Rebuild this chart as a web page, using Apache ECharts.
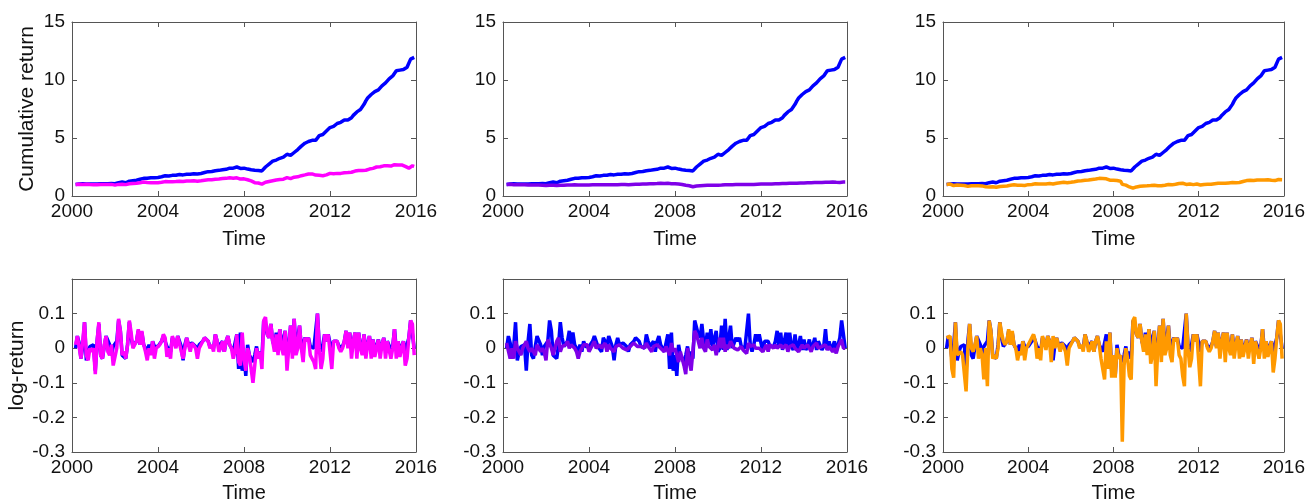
<!DOCTYPE html>
<html><head><meta charset="utf-8">
<script src="https://cdn.jsdelivr.net/npm/echarts@6/dist/echarts.min.js"></script>
<style>html,body{margin:0;padding:0;background:#fff}#c{width:1308px;height:504px}</style>
</head><body><div id="c"></div>
<script>
// Monthly observations, Mar 2000 .. Dec 2015
const startYear = 2000, startMonth = 3;
const xTicks = [2000, 2004, 2008, 2012, 2016];
const cumTicks = [0, 5, 10, 15];
const logTicks = [-0.3, -0.2, -0.1, 0, 0.1];

// Cumulative return (top row)
const blueCum = [
1.00,1.02,1.04,1.03,1.05,1.06,1.04,1.05,1.04,1.05,
1.03,1.02,1.04,1.06,1.05,1.04,1.05,1.07,1.06,1.05,1.07,1.08,
1.06,1.07,1.15,1.22,1.20,1.18,1.14,1.16,1.28,1.33,1.32,1.34,
1.36,1.42,1.44,1.50,1.52,1.55,1.53,1.56,1.58,1.60,1.57,1.60,
1.60,1.62,1.66,1.72,1.74,1.73,1.72,1.76,1.78,1.80,1.79,1.82,
1.85,1.83,1.82,1.85,1.87,1.88,1.87,1.89,1.92,1.93,1.90,1.92,
1.94,1.97,2.02,2.07,2.10,2.10,2.12,2.11,2.18,2.22,2.21,2.22,
2.26,2.30,2.30,2.38,2.40,2.42,2.40,2.42,2.50,2.45,2.38,2.48,
2.40,2.30,2.32,2.30,2.26,2.24,2.22,2.24,2.20,2.20,2.16,2.32,
2.50,2.65,2.75,2.90,3.00,3.05,3.10,3.15,3.25,3.30,3.35,3.45,
3.60,3.55,3.50,3.60,3.75,3.85,4.00,4.10,4.30,4.45,4.55,4.65,
4.70,4.75,4.80,4.80,4.80,4.85,5.20,5.20,5.30,5.45,5.60,5.75,
5.90,5.90,6.00,6.10,6.25,6.30,6.35,6.50,6.55,6.50,6.55,6.60,
6.75,6.95,7.10,7.25,7.35,7.45,7.60,7.90,8.20,8.45,8.60,8.75,
8.90,9.00,9.10,9.15,9.30,9.50,9.60,9.75,9.90,10.10,10.25,10.35,
10.40,10.80,10.80,10.85,10.80,10.90,11.00,11.10,11.10,11.80,11.90,11.95];

const magentaCum = [
1.00,1.01,1.02,1.00,0.99,1.02,1.01,0.99,0.99,0.98,
0.98,0.95,0.96,1.00,0.99,0.98,0.99,1.01,1.00,0.99,1.00,0.97,
0.94,0.94,1.00,1.03,1.01,1.00,0.98,0.99,1.05,1.08,1.08,1.09,
1.10,1.14,1.15,1.19,1.20,1.19,1.16,1.16,1.15,1.17,1.14,1.15,
1.15,1.16,1.18,1.22,1.24,1.22,1.22,1.20,1.23,1.25,1.25,1.28,
1.28,1.26,1.25,1.28,1.29,1.28,1.30,1.31,1.31,1.28,1.28,1.29,
1.31,1.33,1.36,1.38,1.40,1.40,1.41,1.40,1.45,1.48,1.47,1.47,
1.50,1.49,1.52,1.56,1.57,1.57,1.53,1.52,1.57,1.52,1.46,1.52,
1.48,1.40,1.40,1.38,1.30,1.20,1.15,1.14,1.12,1.10,1.02,1.08,
1.18,1.22,1.25,1.30,1.32,1.33,1.38,1.38,1.42,1.45,1.45,1.50,
1.58,1.50,1.50,1.55,1.62,1.60,1.65,1.72,1.75,1.78,1.82,1.85,
1.90,1.88,1.90,1.86,1.80,1.72,1.78,1.72,1.75,1.80,1.82,1.88,
1.95,1.88,1.92,1.95,1.95,1.97,1.95,1.98,2.00,2.05,2.02,2.08,
2.05,2.08,2.15,2.12,2.20,2.22,2.20,2.25,2.22,2.26,2.32,2.30,
2.38,2.45,2.50,2.55,2.52,2.55,2.60,2.55,2.60,2.62,2.58,2.60,
2.70,2.65,2.68,2.65,2.68,2.60,2.55,2.50,2.40,2.55,2.60,2.55];

const purpleCum = [
1.00,1.00,1.01,0.98,0.97,0.99,0.98,0.97,0.97,0.96,
0.96,0.94,0.94,0.96,0.95,0.94,0.94,0.95,0.94,0.93,0.93,0.91,
0.90,0.90,0.92,0.93,0.92,0.91,0.90,0.90,0.92,0.93,0.93,0.93,
0.94,0.95,0.95,0.96,0.96,0.96,0.95,0.95,0.94,0.95,0.94,0.94,
0.95,0.95,0.96,0.97,0.97,0.96,0.96,0.96,0.97,0.97,0.97,0.98,
0.98,0.97,0.97,0.98,0.98,0.98,0.99,0.99,0.99,0.98,0.98,0.99,
1.00,1.00,1.01,1.02,1.02,1.02,1.03,1.03,1.04,1.05,1.05,1.05,
1.06,1.06,1.07,1.08,1.09,1.09,1.08,1.08,1.09,1.08,1.06,1.07,
1.06,1.04,1.04,1.02,0.99,0.94,0.92,0.91,0.88,0.86,0.80,0.83,
0.86,0.87,0.88,0.90,0.90,0.91,0.92,0.92,0.93,0.93,0.93,0.94,
0.93,0.93,0.94,0.94,0.96,0.96,0.96,0.98,0.98,0.98,0.99,0.99,
1.00,1.00,1.00,1.00,0.99,1.00,1.00,0.99,0.99,1.00,1.01,1.02,
1.03,1.02,1.03,1.03,1.04,1.04,1.04,1.04,1.05,1.06,1.06,1.07,
1.07,1.07,1.08,1.08,1.09,1.09,1.09,1.10,1.10,1.11,1.12,1.12,
1.13,1.13,1.14,1.14,1.15,1.15,1.16,1.16,1.17,1.17,1.17,1.18,
1.19,1.19,1.19,1.19,1.20,1.19,1.18,1.18,1.17,1.19,1.20,1.20];

const orangeCum = [
1.00,1.02,1.03,0.97,0.90,0.96,0.95,0.93,0.93,0.92,
0.91,0.81,0.83,0.89,0.89,0.88,0.88,0.91,0.89,0.87,0.87,0.80,
0.80,0.72,0.78,0.82,0.80,0.78,0.75,0.76,0.82,0.85,0.85,0.86,
0.87,0.91,0.92,0.96,0.97,0.96,0.93,0.93,0.92,0.94,0.91,0.92,
0.98,0.99,1.00,1.03,1.05,1.03,1.03,1.00,1.03,1.05,1.04,1.07,
1.08,1.06,1.03,1.07,1.10,1.12,1.14,1.17,1.18,1.14,1.14,1.16,
1.18,1.20,1.23,1.26,1.29,1.30,1.31,1.30,1.35,1.39,1.38,1.40,
1.43,1.42,1.46,1.50,1.52,1.54,1.50,1.46,1.48,1.43,1.36,1.40,
1.36,1.32,1.33,1.30,1.28,1.00,0.95,0.94,0.87,0.78,0.72,0.67,
0.72,0.78,0.78,0.84,0.86,0.87,0.89,0.88,0.92,0.90,0.89,0.93,
0.99,0.88,0.91,0.88,0.95,0.93,0.93,0.99,0.99,0.96,0.98,1.01,
1.05,1.07,1.10,1.10,1.03,1.00,0.95,1.04,0.99,0.98,1.02,1.03,
1.06,0.95,0.97,1.00,1.00,1.01,1.02,1.01,1.03,1.06,1.06,1.10,
1.09,1.10,1.13,1.09,1.13,1.13,1.12,1.16,1.13,1.14,1.18,1.16,
1.20,1.25,1.30,1.33,1.32,1.35,1.38,1.33,1.35,1.38,1.35,1.37,
1.42,1.39,1.41,1.40,1.44,1.36,1.33,1.33,1.30,1.42,1.45,1.41];

// Log-returns (bottom row)
const blueLog = [
0.0,0.035,0.015,-0.03,0.005,0.075,-0.035,-0.01,0.005,0.0,
0.01,-0.065,0.02,0.07,-0.02,-0.03,0.005,0.035,0.04,0.01,-0.02,0.005,
0.01,0.02,0.08,0.05,-0.02,-0.02,-0.03,0.01,0.075,0.03,0.005,0.01,
0.02,0.05,0.01,0.045,0.01,0.005,-0.01,0.01,-0.01,0.02,0.005,0.01,
0.005,0.01,0.02,0.035,0.03,0.005,0.01,-0.01,0.03,0.02,0.005,0.035,
0.03,0.005,-0.035,0.01,0.03,0.01,0.005,0.015,0.02,0.005,-0.01,0.01,
0.01,0.02,0.03,0.025,0.02,0.005,0.01,0.0,0.04,0.02,0.005,0.01,
0.02,-0.01,0.02,0.035,0.01,0.005,-0.01,-0.01,0.04,-0.06,0.045,-0.065,
-0.02,-0.08,0.01,-0.02,-0.03,-0.04,-0.02,0.005,-0.03,-0.01,-0.03,0.08,
0.085,0.04,0.03,0.07,0.02,0.005,0.045,0.01,0.055,0.005,0.01,0.05,
-0.01,0.0,0.065,-0.005,0.085,-0.005,0.0,0.065,0.0,-0.005,0.03,0.02,
0.03,0.005,0.0,0.0,0.0,0.1,0.01,-0.01,0.01,0.04,0.02,0.04,
0.035,-0.01,0.02,0.025,0.02,0.005,0.0,0.005,0.02,0.05,0.005,0.045,
-0.005,0.02,0.045,-0.005,0.045,0.005,-0.005,0.04,-0.005,0.01,0.035,-0.005,
0.025,-0.005,0.005,0.025,-0.005,0.01,0.03,-0.005,0.02,0.025,-0.005,0.005,
0.055,-0.005,0.02,-0.005,0.005,0.02,-0.01,-0.005,0.03,0.08,0.075,0.0];

const magentaLog = [
0.01,0.035,0.03,-0.03,-0.035,0.075,-0.02,-0.035,0.0,-0.01,
0.0,-0.075,0.02,0.075,-0.02,-0.03,0.01,0.035,-0.01,-0.02,0.01,-0.05,
-0.055,0.0,0.085,0.05,-0.02,-0.01,-0.03,0.01,0.08,0.045,0.0,0.01,
0.02,0.055,0.01,0.05,0.01,-0.01,-0.035,0.0,-0.02,0.02,-0.03,0.0,
0.0,0.01,0.02,0.04,0.03,-0.025,0.0,-0.03,0.035,0.02,0.0,0.035,
0.035,-0.01,-0.03,0.0,0.03,0.01,-0.01,0.015,0.02,0.0,-0.03,0.0,
0.01,0.02,0.03,0.025,0.02,0.0,0.01,-0.01,0.04,0.02,-0.01,0.0,
0.02,-0.01,0.02,0.035,0.01,0.0,-0.03,-0.01,0.04,-0.04,-0.05,0.045,
-0.03,-0.065,0.0,-0.02,-0.06,-0.1,-0.05,0.0,-0.03,-0.01,-0.06,0.08,
0.09,0.04,0.03,0.07,0.02,-0.01,0.04,-0.02,0.055,0.0,-0.02,0.05,
-0.065,0.0,0.065,-0.03,0.085,-0.02,0.0,0.065,0.0,-0.04,0.03,0.02,
0.03,-0.02,-0.03,-0.04,-0.06,0.1,0.0,-0.06,-0.03,0.04,0.02,0.04,
0.035,-0.06,0.02,0.025,0.02,0.0,-0.01,0.0,0.02,0.05,0.0,0.045,
-0.03,0.02,0.045,-0.03,0.045,0.0,-0.02,0.04,-0.03,0.01,0.035,-0.03,
0.025,-0.025,0.0,0.025,-0.03,0.01,0.03,-0.03,0.02,0.025,-0.03,0.0,
0.055,-0.03,0.02,-0.025,0.0,0.02,-0.05,-0.03,0.03,0.08,0.07,-0.02];

const purpleLog = [
0.015,0.01,-0.03,0.0,-0.03,0.02,0.0,0.0,-0.02,0.0,
0.01,0.02,0.0,-0.01,0.0,0.0,-0.02,0.01,0.0,-0.01,0.0,-0.01,
-0.035,0.025,0.02,0.0,-0.02,0.0,0.02,0.03,-0.01,0.005,0.0,0.01,
0.02,0.0,0.01,0.015,0.0,-0.01,-0.03,-0.01,0.0,0.01,0.005,0.01,
-0.01,0.0,0.01,0.02,0.0,0.005,0.01,0.0,-0.005,0.015,-0.01,0.01,
0.0,0.005,-0.01,0.005,0.0,0.01,0.005,0.0,0.005,-0.005,-0.01,0.005,
0.01,0.015,0.01,0.005,0.01,0.005,0.01,0.0,0.015,0.005,0.0,-0.01,
0.005,0.0,0.01,0.01,0.0,-0.005,-0.01,0.005,0.0,-0.02,0.015,-0.01,
0.0,-0.02,-0.04,-0.01,-0.03,-0.05,-0.075,0.0,-0.04,-0.065,-0.065,0.05,
0.04,0.02,0.0,0.03,0.0,-0.01,0.025,0.005,0.0,-0.005,0.01,-0.02,
-0.02,0.03,0.0,0.03,-0.01,0.01,0.0,0.02,0.01,0.0,0.005,-0.005,
0.0,0.005,-0.005,0.0,-0.015,0.015,0.005,0.0,0.01,0.0,0.005,0.0,
0.005,-0.01,0.0,0.01,-0.01,0.01,0.005,0.0,0.01,0.0,-0.005,0.01,
0.0,0.005,0.01,-0.01,0.005,0.0,0.01,0.0,0.005,-0.01,0.0,0.01,
0.0,0.005,0.01,0.0,-0.01,0.005,0.0,0.015,0.0,-0.005,0.005,0.0,
0.01,-0.005,0.005,0.0,-0.01,0.0,-0.015,0.005,0.01,0.025,0.0,0.0];

const orangeLog = [
0.03,0.03,0.035,-0.06,-0.085,0.075,-0.02,-0.02,-0.01,-0.02,
-0.02,-0.125,0.0,0.07,0.0,-0.01,0.01,0.035,-0.03,0.0,-0.02,-0.09,
0.0,-0.11,0.08,0.05,-0.03,-0.02,-0.03,0.0,0.075,0.045,0.02,0.01,
0.02,0.055,0.01,0.05,0.01,0.0,-0.035,-0.01,-0.02,0.02,-0.035,0.0,
0.01,0.02,0.03,0.04,0.02,-0.03,0.0,-0.035,0.035,0.02,-0.005,0.035,
0.02,-0.04,0.035,0.0,0.03,0.01,-0.01,0.015,0.02,-0.01,-0.05,0.0,
0.01,0.02,0.03,0.025,0.02,0.0,0.01,-0.01,0.04,0.02,-0.01,0.0,
0.02,-0.01,0.02,0.035,0.01,-0.03,-0.03,-0.09,0.02,-0.06,0.045,-0.085,
-0.02,-0.085,0.0,-0.03,-0.02,-0.27,-0.05,0.0,-0.03,-0.08,-0.09,0.08,
0.09,0.04,0.03,0.07,0.02,-0.01,0.04,-0.02,0.055,-0.045,-0.02,0.05,
-0.11,0.0,0.065,-0.04,0.085,-0.02,0.0,0.065,-0.02,-0.04,0.03,0.02,
0.03,-0.02,-0.03,-0.08,-0.11,0.1,0.0,-0.055,-0.03,0.04,0.02,0.04,
0.035,-0.11,0.02,0.025,0.02,0.0,-0.01,0.0,0.02,0.05,0.0,0.045,
-0.03,0.02,0.045,-0.04,0.045,0.0,-0.02,0.04,-0.03,0.01,0.035,-0.03,
0.025,-0.025,0.0,0.025,-0.03,0.01,0.03,-0.045,0.02,0.025,-0.03,0.0,
0.055,-0.03,0.02,-0.025,0.0,0.02,-0.07,-0.03,0.03,0.08,0.07,-0.03];

const N = blueCum.length;
const time = [];
for (let i = 0; i < N; i++) time.push(startYear + (startMonth - 1 + i) / 12);
const pairs = arr => arr.map((v, i) => [time[i], v]);

const BLUE = '#0000FF', MAGENTA = '#FF00FF', PURPLE = '#7F00E8', ORANGE = '#FF9900';
const FONT = '"Liberation Sans", Arial, Helvetica, sans-serif';
const AX = '#555555';
const LW = 3.5;

const grids = [
  {left: 72, top: 22, width: 344, height: 174},
  {left: 503, top: 22, width: 344, height: 174},
  {left: 943, top: 22, width: 343, height: 174},
  {left: 72, top: 279, width: 344, height: 173},
  {left: 503, top: 279, width: 344, height: 173},
  {left: 943, top: 279, width: 343, height: 173}
];
const panels = [
  {cum: true, other: magentaCum, color: MAGENTA, yName: 'Cumulative return'},
  {cum: true, other: purpleCum, color: PURPLE, yName: ''},
  {cum: true, other: orangeCum, color: ORANGE, yName: ''},
  {cum: false, other: magentaLog, color: MAGENTA, yName: 'log-return'},
  {cum: false, other: purpleLog, color: PURPLE, yName: ''},
  {cum: false, other: orangeLog, color: ORANGE, yName: ''}
];

const lineAx = {show: true, onZero: false, lineStyle: {color: AX, width: 1}};
const tickAx = {show: true, inside: true, length: 5, lineStyle: {color: AX, width: 1}};
const xAxes = [], yAxes = [], series = [];
panels.forEach((p, g) => {
  const xBase = {type: 'value', gridIndex: g, min: xTicks[0], max: xTicks[xTicks.length - 1], interval: 4,
    axisLine: lineAx, axisTick: tickAx, splitLine: {show: false}};
  xAxes.push(Object.assign({}, xBase, {position: 'bottom',
    name: 'Time', nameLocation: 'middle', nameGap: g < 3 ? 33 : 31,
    nameTextStyle: {fontFamily: FONT, fontSize: 20, color: '#111'},
    axisLabel: {fontFamily: FONT, fontSize: 19, color: '#111', margin: 6, formatter: v => String(Math.round(v))}}));
  xAxes.push(Object.assign({}, xBase, {position: 'top', axisLabel: {show: false}}));
  const yMin = p.cum ? cumTicks[0] : logTicks[0];
  const yMax = p.cum ? cumTicks[cumTicks.length - 1] : 0.2;
  const yInt = p.cum ? 5 : 0.1;
  const yBase = {type: 'value', gridIndex: g, min: yMin, max: yMax, interval: yInt,
    axisLine: lineAx, axisTick: tickAx, splitLine: {show: false}};
  yAxes.push(Object.assign({}, yBase, {position: 'left',
    name: p.yName, nameLocation: 'middle', nameGap: p.cum ? 34 : 44, nameRotate: 90,
    nameTextStyle: {fontFamily: FONT, fontSize: 21, color: '#111'},
    axisLabel: {fontFamily: FONT, fontSize: 19, color: '#111', margin: 7,
      formatter: v => {
        if (!p.cum && v > 0.15) return '';
        const r = Math.round(v * 10) / 10;
        return String(r);
      }}}));
  yAxes.push(Object.assign({}, yBase, {position: 'right', axisLabel: {show: false}}));
  series.push({type: 'line', xAxisIndex: 2 * g, yAxisIndex: 2 * g, data: pairs(p.cum ? blueCum : blueLog),
    showSymbol: false, lineStyle: {color: BLUE, width: LW}, itemStyle: {color: BLUE}, z: 2, animation: false});
  series.push({type: 'line', xAxisIndex: 2 * g, yAxisIndex: 2 * g, data: pairs(p.other),
    showSymbol: false, lineStyle: {color: p.color, width: LW}, itemStyle: {color: p.color}, z: 3, animation: false});
});

const chart = echarts.init(document.getElementById('c'), null, {renderer: 'canvas'});
chart.setOption({
  backgroundColor: '#ffffff',
  animation: false,
  grid: grids,
  xAxis: xAxes,
  yAxis: yAxes,
  series: series
});
</script>
</body></html>
